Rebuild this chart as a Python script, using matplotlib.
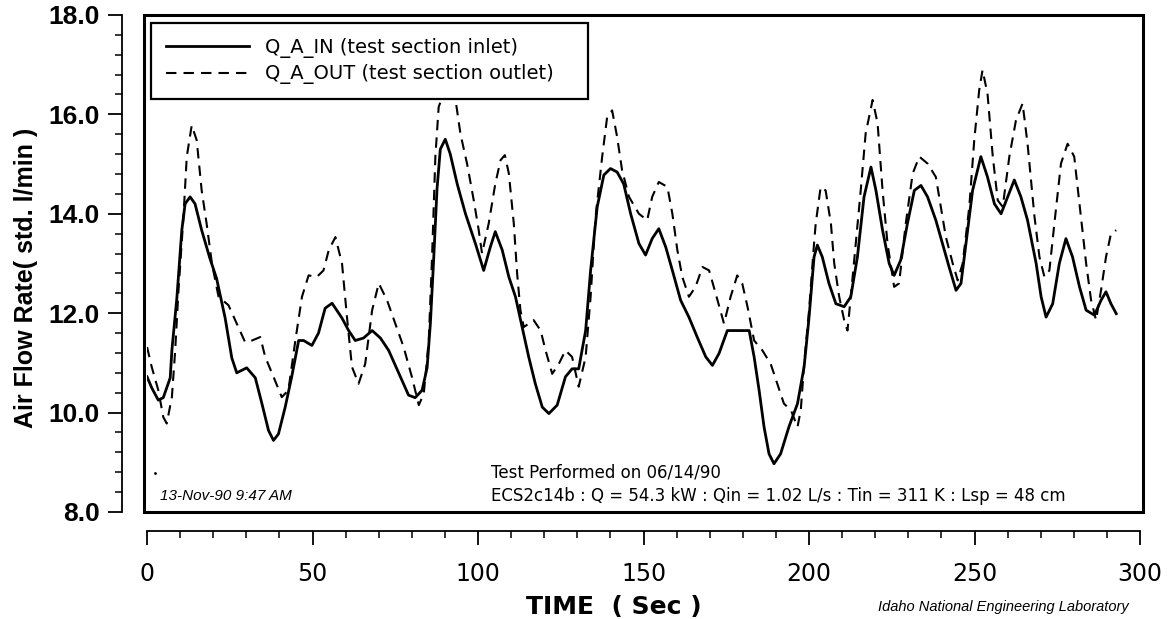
import numpy as np
import matplotlib
matplotlib.use("Agg")
import matplotlib.pyplot as plt
from matplotlib.patches import Rectangle
from matplotlib.ticker import MultipleLocator, FormatStrFormatter

# inlet air flow, Q_A_IN (time in s, flow in std. l/min)
t_in = [0, 1.4, 3.4, 4.9, 7, 7.5, 9, 10.5, 11.5, 13, 14.5, 16.5, 19, 21, 23.6,
        25.6, 27.1, 30.1, 32.7, 34.7, 36.7, 38.2, 39.7, 41.7, 43.7, 45.8, 47.3,
        49.8, 51.8, 53.8, 55.9, 58.9, 60.9, 62.9, 65.4, 68, 70.5, 73, 76, 79,
        81, 83.1, 84.6, 85.6, 86.6, 87.6, 88.6, 90.1, 91.6, 93.7, 96.2, 99.2,
        101.7, 103.7, 105.2, 107.3, 109.3, 111.3, 113.3, 115.3, 117.3, 119.4,
        121.4, 123.9, 126.4, 128.4, 130.4, 132.5, 134, 136, 138, 140, 142, 144,
        146.1, 148.6, 150.6, 152.6, 154.6, 156.7, 158.7, 161.2, 163.7, 166.2,
        168.8, 170.8, 172.8, 175.3, 178.8, 181.9, 183.4, 184.9, 186.4, 187.9,
        189.4, 191.4, 193.9, 196.5, 198.5, 200, 201.5, 202.5, 204, 206, 208.1,
        210.6, 212.6, 214.6, 216.6, 218.7, 220.2, 222.2, 224.2, 225.7, 227.7,
        229.7, 231.8, 233.8, 235.8, 238.3, 240.3, 242.3, 244.4, 245.9, 247.4,
        249.4, 251.9, 253.9, 256, 258, 260, 262, 264, 266, 268.6, 270.1, 271.6,
        273.6, 275.6, 277.6, 279.6, 281.7, 283.7, 286.2, 288.2, 289.7, 291.2,
        292.8]
q_in = [10.72, 10.5, 10.25, 10.3, 10.7, 11.25, 12.3, 13.67, 14.2, 14.34, 14.2,
        13.67, 13.1, 12.7, 11.9, 11.1, 10.8, 10.9, 10.7, 10.18, 9.64, 9.44,
        9.57, 10.1, 10.72, 11.45, 11.45, 11.35, 11.6, 12.1, 12.2, 11.9, 11.65,
        11.45, 11.5, 11.65, 11.5, 11.25, 10.8, 10.35, 10.3, 10.45, 10.9, 11.8,
        13.1, 14.5, 15.3, 15.5, 15.2, 14.6, 14.0, 13.4, 12.86, 13.33, 13.64,
        13.27, 12.73, 12.33, 11.72, 11.12, 10.58, 10.11, 9.98, 10.15, 10.72,
        10.88, 10.88, 11.65, 12.86, 14.14, 14.78, 14.91, 14.84, 14.6, 14.0,
        13.4, 13.17, 13.5, 13.7, 13.33, 12.86, 12.26, 11.92, 11.52, 11.12,
        10.95, 11.19, 11.65, 11.65, 11.65, 11.12, 10.45, 9.71, 9.17, 8.97,
        9.17, 9.71, 10.18, 10.92, 11.92, 13.13, 13.37, 13.13, 12.6, 12.19,
        12.13, 12.33, 13.13, 14.34, 14.94, 14.47, 13.67, 13.0, 12.76, 13.07,
        13.8, 14.47, 14.57, 14.34, 13.87, 13.4, 12.93, 12.46, 12.6, 13.4,
        14.47, 15.15, 14.74, 14.2, 14.0, 14.34, 14.68, 14.34, 13.87, 13.0,
        12.33, 11.92, 12.19, 13.0, 13.5, 13.13, 12.53, 12.06, 11.96, 12.26,
        12.43, 12.19, 11.99]

# outlet air flow, Q_A_OUT
t_out = [0, 1.4, 3.4, 4.9, 5.95, 7.5, 8.5, 9.5, 11, 12, 13.5, 15, 16.5, 18,
         19.6, 21.6, 24.6, 27.1, 29.6, 31.7, 34.2, 35.7, 38.2, 40.7, 42.7, 44.8,
         46.8, 48.8, 51.3, 53.3, 54.9, 56.9, 58.9, 60.4, 61.9, 63.9, 65.9, 68,
         70, 72.5, 75, 77.5, 80, 82.1, 83.6, 85.1, 86.1, 87.1, 88.1, 90.6, 93.2,
         94.7, 96.7, 98.7, 100.2, 101.2, 103.2, 105.2, 106.8, 108.1, 109.3,
         110.8, 111.8, 112.8, 113.8, 116.8, 118.9, 120.4, 122.4, 124.4, 126.4,
         128.4, 130.4, 132.5, 134, 135.5, 137.5, 139, 140.5, 142, 143.5, 145.6,
         148.6, 151.1, 152.6, 154.6, 157.2, 158.7, 160.2, 161.7, 163.7, 165.7,
         167.8, 169.8, 171.8, 174.3, 176.3, 178.3, 179.8, 181.4, 183.4, 185.9,
         188.4, 190.4, 192.4, 194.5, 196.5, 197.5, 198.5, 200, 201.5, 202,
         203.5, 205, 206.6, 207.6, 209.1, 210.6, 211.6, 212.6, 214.1, 215.6,
         217.1, 219.2, 220.7, 222.2, 223.7, 225.7, 227.2, 229.2, 231.3, 233.3,
         235.8, 238.3, 239.8, 241.3, 243.4, 244.9, 246.4, 248.4, 249.9, 251.4,
         252.4, 253.9, 255.5, 257, 258.5, 260.5, 262.5, 264.5, 266, 268.1,
         269.6, 271.1, 272.6, 274.1, 276.1, 278.1, 280.1, 281.7, 283.7, 285.2,
         286.7, 288.2, 289.7, 291.2, 292.8]
q_out = [11.32, 10.92, 10.45, 9.91, 9.78, 10.31, 11.25, 12.46, 13.94, 15.15,
         15.78, 15.48, 14.47, 13.8, 13.0, 12.33, 12.16, 11.79, 11.42, 11.45,
         11.52, 11.12, 10.72, 10.31, 10.45, 11.45, 12.33, 12.76, 12.73, 12.86,
         13.27, 13.53, 13.0, 11.92, 10.92, 10.58, 10.98, 12.06, 12.6, 12.26,
         11.79, 11.32, 10.72, 10.15, 10.38, 11.45, 13.13, 15.15, 16.15, 16.6,
         16.29, 15.6, 15.0, 14.27, 13.67, 13.2, 13.8, 14.6, 15.08, 15.18, 14.81,
         13.8, 12.8, 12.06, 11.72, 11.86, 11.65, 11.25, 10.78, 10.98, 11.25,
         11.12, 10.52, 11.12, 12.33, 13.94, 15.15, 15.95, 16.08, 15.55, 14.88,
         14.34, 14.0, 13.87, 14.34, 14.64, 14.54, 14.0, 13.27, 12.73, 12.33,
         12.53, 12.93, 12.86, 12.39, 11.79, 12.33, 12.76, 12.6, 12.13, 11.45,
         11.25, 10.98, 10.58, 10.18, 10.05, 9.71, 10.05, 10.98, 12.06, 13.4,
         13.8, 14.54, 14.47, 13.8, 13.0, 12.33, 11.86, 11.65, 12.33, 13.4,
         14.47, 15.62, 16.29, 15.82, 14.47, 13.4, 12.53, 12.6, 13.8, 14.81,
         15.15, 15.01, 14.74, 14.14, 13.54, 13.0, 12.66, 13.0, 14.14, 15.48,
         16.49, 16.89, 16.42, 15.15, 14.27, 14.14, 15.15, 15.88, 16.22, 15.41,
         13.94, 13.13, 12.73, 12.86, 13.8, 15.01, 15.41, 15.15, 14.2, 13.0,
         12.26, 11.86, 12.46, 13.13, 13.6, 13.67]

fig = plt.figure(figsize=(11.68, 6.19), dpi=100)
ax = fig.add_axes([0.1259, 0.1729, 0.8502, 0.8029])

ax.plot(t_in, q_in, color="black", lw=2.0, label="Q_A_IN (test section inlet)")
ax.plot(t_out, q_out, color="black", lw=1.5, dashes=(5, 3.4),
        label="Q_A_OUT (test section outlet)")

ax.set_xlim(0, 300)
ax.set_ylim(8, 18)

# plot frame drawn separately, axis lines pushed outside it
ax.add_patch(Rectangle((-0.003, 0), 1.006, 1.0, transform=ax.transAxes,
                       fill=False, lw=2.2, ec="black", clip_on=False, zorder=5))
for side in ("top", "right"):
    ax.spines[side].set_visible(False)
ax.spines["left"].set_position(("outward", 18))
ax.spines["bottom"].set_position(("outward", 14))
ax.spines["left"].set_linewidth(1.3)
ax.spines["bottom"].set_linewidth(1.3)

ax.xaxis.set_major_locator(MultipleLocator(50))
ax.xaxis.set_minor_locator(MultipleLocator(10))
ax.yaxis.set_major_locator(MultipleLocator(2))
ax.yaxis.set_minor_locator(MultipleLocator(0.4))
ax.yaxis.set_major_formatter(FormatStrFormatter("%.1f"))
ax.tick_params(which="major", length=10, width=1.3, direction="out")
ax.tick_params(which="minor", length=5, width=1.1, direction="out")
ax.tick_params(axis="x", labelsize=17, pad=12)
ax.tick_params(axis="y", labelsize=19, pad=6)
for lab in ax.get_yticklabels():
    lab.set_fontfamily("Liberation Sans")
    lab.set_fontweight("bold")

ax.set_ylabel("Air Flow Rate( std. l/min )", fontsize=18, fontweight="bold",
              family="Liberation Sans")
ax.yaxis.set_label_coords(-0.110, 0.471)

leg = ax.legend(loc="upper left", bbox_to_anchor=(0.004, 0.0, 0.44, 0.984),
                mode="expand", fontsize=14, handlelength=4.3,
                handletextpad=0.8, borderpad=0.75, labelspacing=0.35,
                fancybox=False, framealpha=1.0, edgecolor="black",
                borderaxespad=0)
leg.get_frame().set_linewidth(1.6)
leg.set_zorder(6)

ax.text(0.346, 0.0785, "Test Performed on 06/14/90", transform=ax.transAxes,
        fontsize=12, va="center")
ax.text(0.346, 0.032,
        "ECS2c14b : Q = 54.3 kW : Qin = 1.02 L/s : Tin = 311 K : Lsp = 48 cm",
        transform=ax.transAxes, fontsize=12, va="center")
ax.text(0.013, 0.032, "13-Nov-90 9:47 AM", transform=ax.transAxes,
        fontsize=11, style="italic", family="Liberation Sans", va="center")
ax.plot([0.008], [0.078], ".", ms=2, color="black", transform=ax.transAxes)

fig.text(0.45, 0.019, "TIME  ( Sec )", fontsize=18, fontweight="bold",
         ha="left", va="center")
fig.text(0.752, 0.019, "Idaho National Engineering Laboratory", fontsize=10.5,
         style="italic", family="Liberation Sans", va="center")

fig.savefig("out.png", dpi=100)
